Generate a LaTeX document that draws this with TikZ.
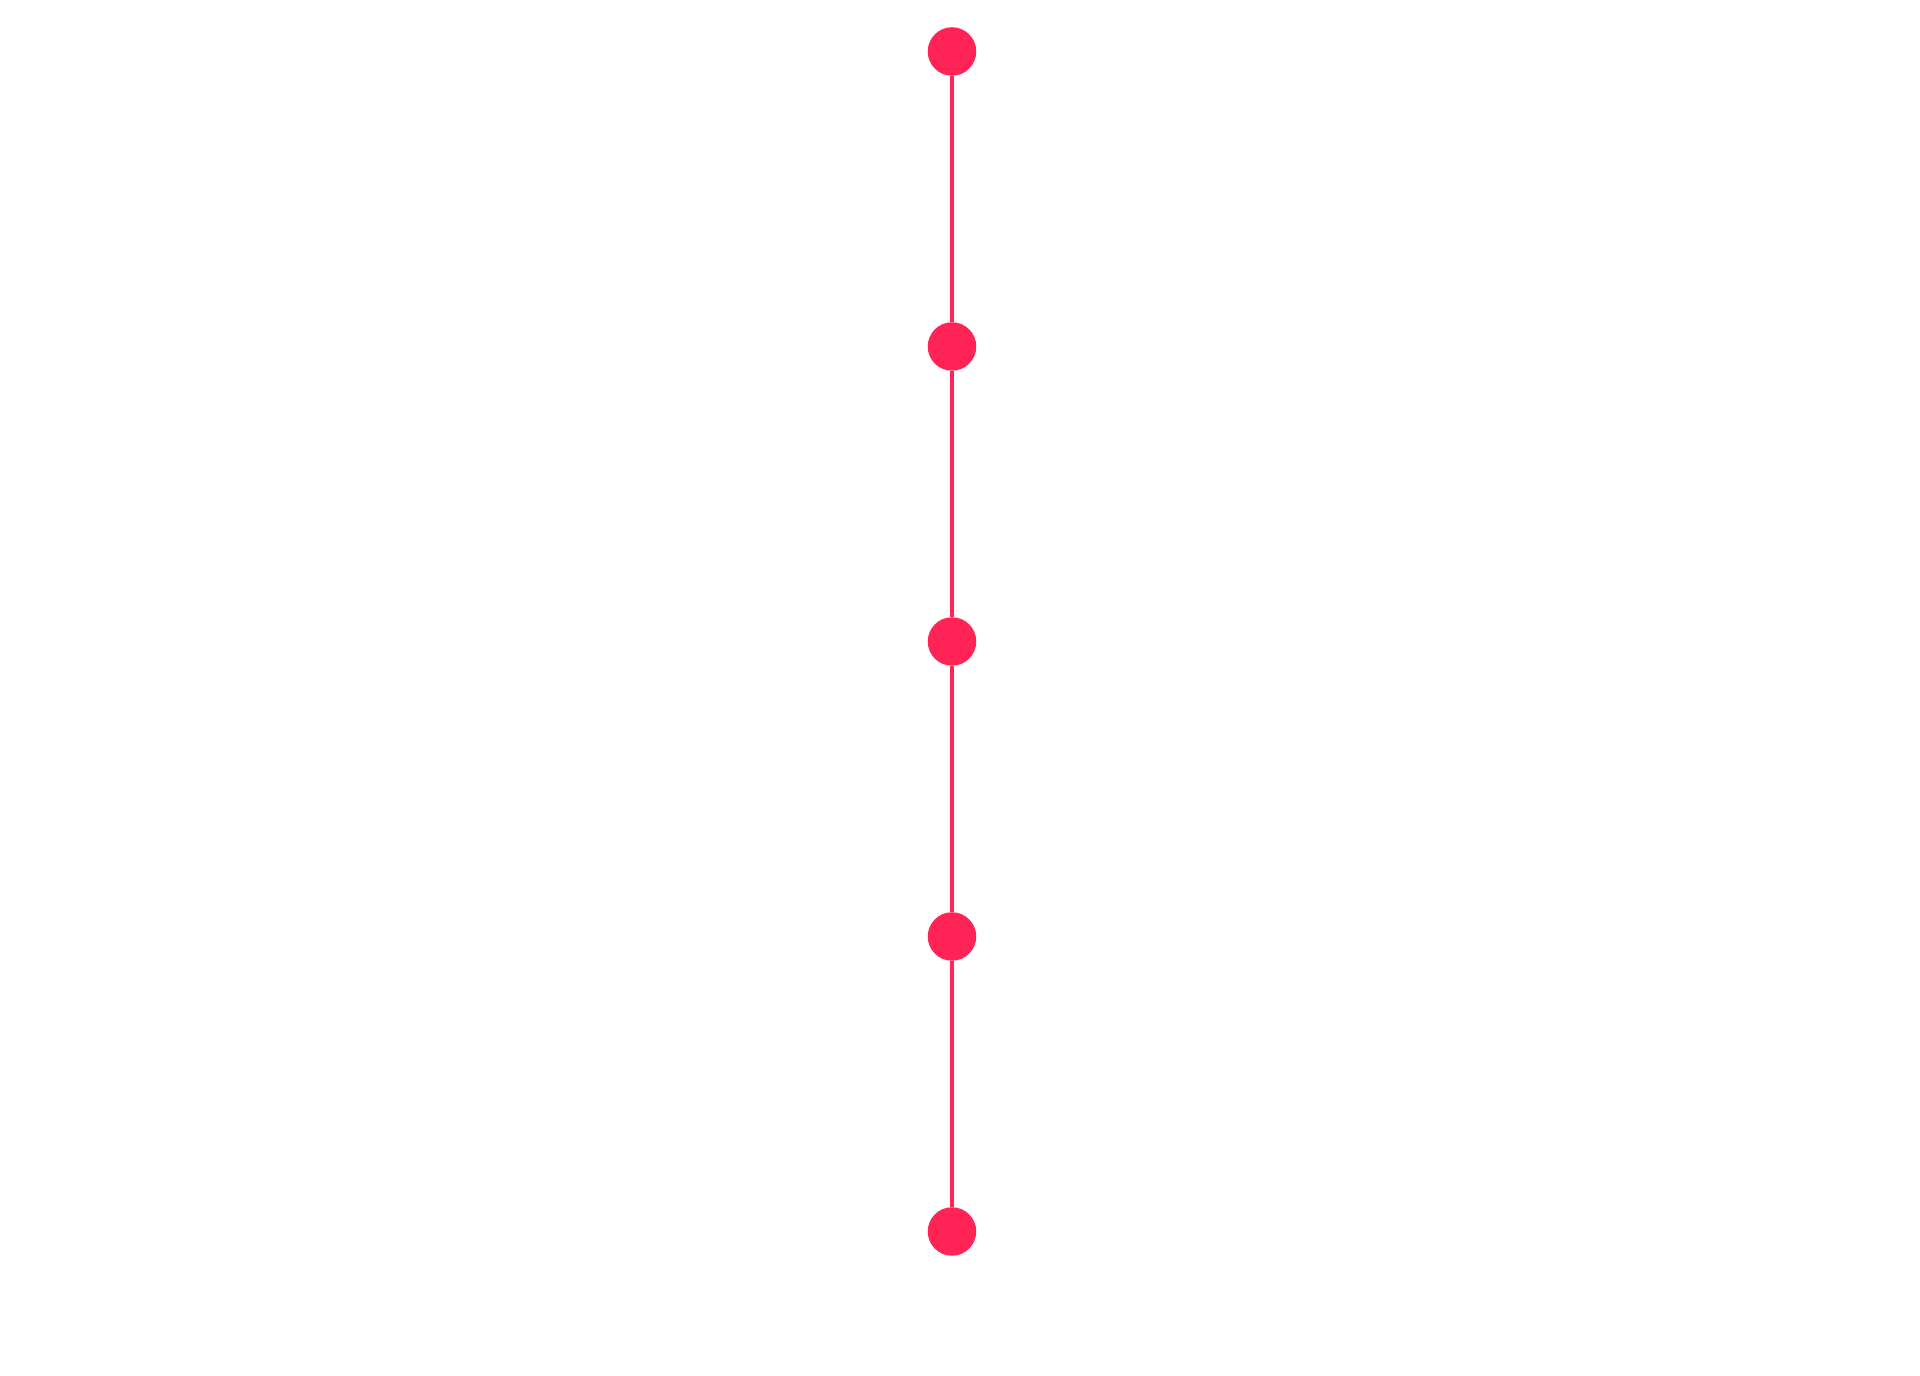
\documentclass[tikz,border=0pt]{standalone}
\definecolor{dotred}{RGB}{255,36,85}
\tikzset{
  dotnode/.style={circle,fill=dotred,draw=none,minimum size=48.5pt,inner sep=0pt},
  linkline/.style={draw=dotred,line width=4pt}
}
\begin{document}
\begin{tikzpicture}[x=1pt,y=1pt]
\useasboundingbox (0,0) rectangle (1920,1376);
\fill[white] (0,0) rectangle (1920,1376);
\node[dotnode] (n1) at (952,1376-51.5) {};
\node[dotnode] (n2) at (952,1376-346.5) {};
\node[dotnode] (n3) at (952,1376-641.5) {};
\node[dotnode] (n4) at (952,1376-936.5) {};
\node[dotnode] (n5) at (952,1376-1231.5) {};
\draw[linkline] (n1) -- (n2);
\draw[linkline] (n2) -- (n3);
\draw[linkline] (n3) -- (n4);
\draw[linkline] (n4) -- (n5);
\end{tikzpicture}
\end{document}
